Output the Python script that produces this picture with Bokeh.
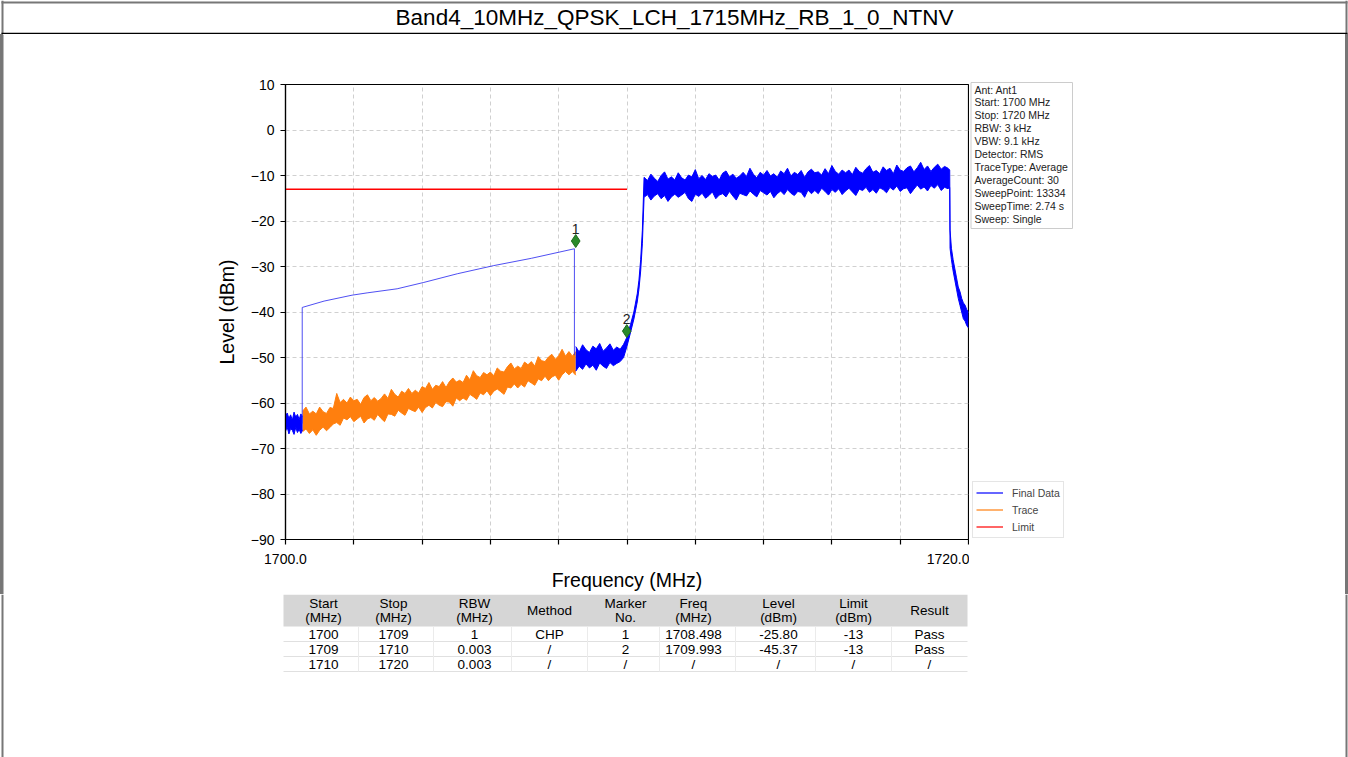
from bokeh.plotting import figure
from bokeh.models import Range1d, FixedTicker, Legend, LegendItem
from bokeh.layouts import column, row
from bokeh.core.properties import value
from bokeh.embed import file_html
from bokeh.resources import INLINE

# ---------------- data ----------------
title_text = "Band4_10MHz_QPSK_LCH_1715MHz_RB_1_0_NTNV"
x_label = "Frequency (MHz)"
y_label = "Level (dBm)"

x_ticks = [1700, 1702, 1704, 1706, 1708, 1710, 1712, 1714, 1716, 1718, 1720]
x_tick_labels = ["1700.0", "", "", "", "", "", "", "", "", "", "1720.0"]
y_ticks = [10, 0, -10, -20, -30, -40, -50, -60, -70, -80, -90]
y_tick_labels = ["10", "0", "\u221210", "\u221220", "\u221230", "\u221240", "\u221250",
                 "\u221260", "\u221270", "\u221280", "\u221290"]

# Final Data: noise below 1700.5 MHz (upper / lower envelope of the trace)
final_low_freq = [1700.0, 1700.05, 1700.1, 1700.15, 1700.2, 1700.25, 1700.3, 1700.35, 1700.4, 1700.45, 1700.5]
final_low_hi = [-63.0, -62.2, -63.4, -62.6, -63.8, -62.0, -63.1, -62.5, -63.6, -62.4, -63.0]
final_low_lo = [-66.2, -65.3, -66.8, -65.6, -66.0, -66.9, -65.4, -66.5, -65.8, -66.7, -65.9]

# Trace (orange) 1700.5 .. 1708.5 MHz
trace_freq = [1700.5, 1700.6, 1700.7, 1700.8, 1700.9, 1701.0, 1701.1, 1701.2, 1701.3, 1701.4,
              1701.5, 1701.6, 1701.7, 1701.8, 1701.9, 1702.0, 1702.1, 1702.2, 1702.3, 1702.4,
              1702.5, 1702.6, 1702.7, 1702.8, 1702.9, 1703.0, 1703.1, 1703.2, 1703.3, 1703.4,
              1703.5, 1703.6, 1703.7, 1703.8, 1703.9, 1704.0, 1704.1, 1704.2, 1704.3, 1704.4,
              1704.5, 1704.6, 1704.7, 1704.8, 1704.9, 1705.0, 1705.1, 1705.2, 1705.3, 1705.4,
              1705.5, 1705.6, 1705.7, 1705.8, 1705.9, 1706.0, 1706.1, 1706.2, 1706.3, 1706.4,
              1706.5, 1706.6, 1706.7, 1706.8, 1706.9, 1707.0, 1707.1, 1707.2, 1707.3, 1707.4,
              1707.5, 1707.6, 1707.7, 1707.8, 1707.9, 1708.0, 1708.1, 1708.2, 1708.3, 1708.4,
              1708.5]
trace_hi = [-61.8, -60.9, -62.4, -61.8, -62.4, -60.9, -61.9, -62.3, -61.0, -61.2,
            -57.9, -59.9, -59.2, -60.0, -58.7, -59.5, -59.2, -60.3, -58.8, -58.2,
            -59.5, -58.8, -59.6, -59.0, -58.0, -59.0, -57.0, -58.1, -58.7, -57.4,
            -57.9, -56.8, -57.9, -57.2, -57.8, -56.4, -56.8, -55.5, -57.0, -56.1,
            -56.4, -55.3, -56.6, -55.3, -54.5, -55.4, -55.0, -55.5, -53.9, -54.9,
            -52.9, -54.0, -54.4, -53.3, -53.8, -53.2, -54.0, -52.3, -53.0, -53.2,
            -52.0, -51.2, -52.5, -51.9, -52.4, -51.0, -51.6, -50.9, -51.9, -49.8,
            -50.7, -50.9, -49.9, -49.3, -50.4, -49.6, -48.2, -49.7, -48.7, -49.7,
            -48.7]
trace_lo = [-66.3, -65.7, -66.7, -65.9, -67.1, -66.0, -65.3, -66.1, -65.4, -64.6,
            -64.3, -64.9, -63.3, -63.7, -63.0, -64.1, -63.5, -62.9, -64.4, -63.5,
            -63.2, -63.8, -62.5, -63.4, -64.1, -62.4, -62.5, -62.9, -61.6, -62.2,
            -62.7, -61.2, -61.6, -61.9, -60.9, -62.1, -61.0, -60.5, -61.1, -59.9,
            -60.5, -60.8, -59.7, -59.8, -60.7, -58.9, -59.5, -58.9, -59.4, -58.1,
            -58.6, -59.2, -57.8, -58.2, -57.3, -58.4, -57.4, -56.9, -57.5, -58.1,
            -56.5, -56.7, -55.8, -56.7, -55.9, -56.5, -55.1, -55.6, -56.1, -54.7,
            -55.1, -54.1, -55.1, -54.3, -53.9, -55.0, -53.8, -53.1, -53.8, -53.1,
            -53.9]

# Final Data (blue) 1708.5 .. 1720 MHz
final_freq = [1708.5, 1708.6, 1708.7, 1708.8, 1708.9, 1709.0, 1709.1, 1709.2, 1709.3, 1709.4,
              1709.5, 1709.6, 1709.7, 1709.8, 1709.9,
              1710.0, 1710.1, 1710.2, 1710.3, 1710.35, 1710.4, 1710.45,
              1710.5, 1710.6, 1710.7, 1710.8, 1710.9, 1711.0, 1711.1, 1711.2, 1711.3, 1711.4,
              1711.5, 1711.6, 1711.7, 1711.8, 1711.9, 1712.0, 1712.1, 1712.2, 1712.3, 1712.4,
              1712.5, 1712.6, 1712.7, 1712.8, 1712.9, 1713.0, 1713.1, 1713.2, 1713.3, 1713.4,
              1713.5, 1713.6, 1713.7, 1713.8, 1713.9, 1714.0, 1714.1, 1714.2, 1714.3, 1714.4,
              1714.5, 1714.6, 1714.7, 1714.8, 1714.9, 1715.0, 1715.1, 1715.2, 1715.3, 1715.4,
              1715.5, 1715.6, 1715.7, 1715.8, 1715.9, 1716.0, 1716.1, 1716.2, 1716.3, 1716.4,
              1716.5, 1716.6, 1716.7, 1716.8, 1716.9, 1717.0, 1717.1, 1717.2, 1717.3, 1717.4,
              1717.5, 1717.6, 1717.7, 1717.8, 1717.9, 1718.0, 1718.1, 1718.2, 1718.3, 1718.4,
              1718.5, 1718.6, 1718.7, 1718.8, 1718.9, 1719.0, 1719.1, 1719.2, 1719.3, 1719.4,
              1719.45, 1719.46, 1719.5, 1719.55, 1719.6, 1719.65, 1719.7, 1719.75, 1719.8, 1719.85,
              1719.9, 1719.95, 1720.0]
final_hi = [-47.6, -48.8, -47.2, -48.3, -48.9, -47.5, -48.1, -46.9, -48.6, -47.9,
            -47.0, -48.4, -47.7, -48.2, -47.1,
            -45.5, -42.8, -40.0, -36.0, -33.0, -28.5, -22.0,
            -10.4, -11.1, -9.7, -10.6, -11.3, -10.0, -9.2, -10.8, -10.3, -11.0,
            -9.4, -10.5, -11.0, -9.9, -10.3, -8.7, -10.7, -10.0, -10.9, -9.6,
            -10.2, -9.9, -11.0, -9.5, -9.0, -10.3, -9.7, -10.6, -10.1, -9.3,
            -10.2, -8.4, -9.7, -10.5, -9.3, -9.9, -8.9, -10.1, -9.6, -10.4,
            -9.0, -9.6, -8.4, -10.1, -9.3, -9.8, -8.9, -10.4, -9.2, -8.6,
            -9.4, -9.2, -9.9, -8.5, -9.6, -7.8, -9.1, -9.7, -8.8, -9.4,
            -8.8, -9.8, -8.2, -9.1, -9.5, -8.5, -7.8, -9.3, -8.9, -9.6,
            -8.1, -8.9, -8.4, -9.6, -7.7, -8.8, -9.1, -8.3, -7.9, -9.2,
            -8.3, -7.1, -8.7, -7.9, -9.1, -8.2, -7.5, -8.6, -8.0, -8.4,
            -8.8, -22.0, -26.0, -28.5, -30.5, -32.5, -34.5, -35.5, -37.0, -38.0,
            -38.5, -39.5, -40.0]
final_lo = [-53.0, -51.9, -52.6, -51.4, -52.3, -51.7, -52.8, -51.2, -51.9, -52.4,
            -51.1, -51.8, -51.3, -50.9, -50.0,
            -47.5, -44.6, -41.6, -37.8, -35.0, -31.0, -25.0,
            -14.8, -14.2, -15.4, -14.5, -14.0, -15.1, -14.4, -15.7, -14.7, -14.1,
            -14.8, -14.3, -13.7, -15.1, -15.7, -14.1, -14.6, -13.9, -15.0, -14.4,
            -13.6, -15.1, -14.3, -14.0, -14.7, -13.5, -14.5, -15.4, -13.9, -14.2,
            -14.5, -13.4, -14.1, -14.7, -13.3, -13.8, -14.3, -13.5, -14.9, -14.0,
            -13.4, -14.2, -13.1, -13.9, -14.4, -13.5, -13.7, -14.8, -13.2, -14.0,
            -13.3, -14.0, -12.8, -13.5, -14.3, -13.1, -13.7, -12.9, -14.2, -13.4,
            -12.8, -13.6, -14.4, -13.0, -13.3, -12.6, -13.7, -13.1, -13.9, -12.7,
            -13.1, -13.8, -12.6, -13.2, -12.3, -13.5, -12.9, -12.7, -14.0, -13.0,
            -12.1, -13.0, -12.5, -13.4, -12.2, -12.8, -12.0, -13.3, -12.6, -12.9,
            -12.6, -26.0, -28.5, -31.0, -33.0, -35.0, -37.0, -38.5, -40.0, -41.5,
            -42.0, -43.0, -43.5]

# Final Data: channel power (CHP) curve 1700.5 .. 1708.5 MHz
chp_freq = [1700.49, 1700.49, 1701.13, 1701.95, 1702.39, 1703.27, 1704.05, 1705.03, 1706.1, 1707.2, 1708.46, 1708.46]
chp_level = [-64.5, -39.0, -37.6, -36.3, -35.8, -34.9, -33.5, -31.6, -29.8, -28.2, -26.1, -49.5]

# Limit
limit_freq = [1700.0, 1710.0]
limit_level = [-13.0, -13.0]

# Markers (as drawn)
marker_names = ["1", "2"]
marker_freq = [1708.498, 1709.993]
marker_level = [-24.4, -44.2]

# Info box
info_lines = ["Ant: Ant1", "Start: 1700 MHz", "Stop: 1720 MHz", "RBW: 3 kHz", "VBW: 9.1 kHz",
              "Detector: RMS", "TraceType: Average", "AverageCount: 30", "SweepPoint: 13334",
              "SweepTime: 2.74 s", "Sweep: Single"]

legend_labels = ["Final Data", "Trace", "Limit"]

# Result table
table_header = [["Start", "(MHz)"], ["Stop", "(MHz)"], ["RBW", "(MHz)"], ["Method"], ["Marker", "No."],
                ["Freq", "(MHz)"], ["Level", "(dBm)"], ["Limit", "(dBm)"], ["Result"]]
table_rows = [["1700", "1709", "1", "CHP", "1", "1708.498", "-25.80", "-13", "Pass"],
              ["1709", "1710", "0.003", "/", "2", "1709.993", "-45.37", "-13", "Pass"],
              ["1710", "1720", "0.003", "/", "/", "/", "/", "/", "/"]]

# ---------------- layout (page pixel positions) ----------------
FONT = "Liberation Sans"
PW, PH = 1348, 757
TOP_H = 34                 # title strip
MID_B = 594                # bottom of the chart strip
CH_L, CH_R = 190, 969      # chart figure extent on the page
FL, FR, FT, FB = 285, 968, 84, 539   # plot frame on the page
LB, RB = 2, 1346           # page frame: left / right line centres
BORDER = "#777777"
ORANGE = "#ff7f0e"
BLUE = "#0000ff"
NAN = float("nan")


def no_align(f):
    try:
        f.frame_align = False
    except Exception:
        pass


def deco(x0, x1, y0, y1, transparent=False):
    f = figure(width=x1 - x0, height=y1 - y0, x_range=Range1d(x0, x1), y_range=Range1d(y1, y0),
               output_backend="svg", toolbar_location=None,
               x_axis_location=None, y_axis_location=None,
               min_border_left=0, min_border_right=0, min_border_top=0, min_border_bottom=0)
    f.title.visible = False
    f.grid.visible = False
    f.outline_line_color = None
    if transparent:
        f.background_fill_alpha = 0
        f.border_fill_alpha = 0
    else:
        f.background_fill_color = "white"
        f.border_fill_color = "white"
    no_align(f)
    return f


def vborders(f, xs, y0, y1):
    # page frame drawn as thin filled strips
    f.quad(left=[x - 1 for x in xs], right=[x + 1 for x in xs], top=[y0] * len(xs), bottom=[y1] * len(xs),
           fill_color=BORDER, line_color=None)


def texts(f, xs, ys, ts, size, align="center", color="black"):
    f.text(x=xs, y=ys, text=ts, text_align=align, text_baseline="middle",
           text_font=value(FONT), text_font_size=size, text_color=color)


# ---- title strip ----
ft = deco(0, PW, 0, TOP_H)
vborders(ft, [LB, RB], 0, TOP_H)
ft.quad(left=[LB - 1], right=[RB + 1], top=[1], bottom=[3], fill_color=BORDER, line_color=None)
ft.quad(left=[LB - 1], right=[RB + 1], top=[32.3], bottom=[33.8], fill_color="black", line_color=None)
texts(ft, [674], [17], [title_text], "22.5px")

# ---- left strip (page frame line via CSS inset shadow behind a transparent canvas) ----
fl = deco(0, CH_L, TOP_H, MID_B, transparent=True)
vborders(fl, [LB], TOP_H, MID_B)
fl.styles = {"box-shadow": "inset 3px 0 0 " + BORDER, "background-color": "white"}

# ---- chart ----
p = figure(width=CH_R - CH_L, height=MID_B - TOP_H, x_range=Range1d(1700, 1720), y_range=Range1d(-90, 10),
           output_backend="svg", toolbar_location=None,
           min_border_left=FL - CH_L, min_border_right=CH_R - FR,
           min_border_top=FT - TOP_H, min_border_bottom=MID_B - FB)
no_align(p)
p.title.visible = False
p.background_fill_color = "white"
p.border_fill_color = "white"
p.outline_line_color = "black"
p.outline_line_width = 1.2

p.xaxis.ticker = FixedTicker(ticks=x_ticks)
p.xaxis.major_label_overrides = {t: l for t, l in zip(x_ticks, x_tick_labels)}
p.yaxis.ticker = FixedTicker(ticks=y_ticks)
p.yaxis.major_label_overrides = {t: l for t, l in zip(y_ticks, y_tick_labels)}
for ax in (p.xaxis, p.yaxis):
    ax.axis_line_color = "black"
    ax.axis_line_width = 1.2
    ax.major_tick_line_color = "black"
    ax.major_tick_line_width = 1.2
    ax.major_tick_out = 5
    ax.major_tick_in = 0
    ax.minor_tick_line_color = None
    ax.major_label_text_font = FONT
    ax.major_label_text_font_size = "14px"
    ax.major_label_text_color = "black"
    ax.axis_label_text_font = FONT
    ax.axis_label_text_font_size = "19.5px"
    ax.axis_label_text_font_style = "normal"
    ax.axis_label_text_color = "black"
p.xaxis.axis_label = x_label
p.yaxis.axis_label = y_label
p.xaxis.major_label_standoff = 9
p.yaxis.major_label_standoff = 6
p.xaxis.axis_label_standoff = 2
p.yaxis.axis_label_standoff = 10

p.grid.grid_line_color = "#c4c4c4"
p.grid.grid_line_dash = "4 3"
p.grid.grid_line_width = 0.8

p.varea(x=trace_freq, y1=trace_lo, y2=trace_hi, fill_color=ORANGE)
p.line(trace_freq, trace_hi, line_color=ORANGE, line_width=1)
p.line(trace_freq, trace_lo, line_color=ORANGE, line_width=1)

p.varea(x=final_low_freq, y1=final_low_lo, y2=final_low_hi, fill_color=BLUE)
p.line(final_low_freq, final_low_hi, line_color=BLUE, line_width=1)
p.line(final_low_freq, final_low_lo, line_color=BLUE, line_width=1)

p.varea(x=final_freq, y1=final_lo, y2=final_hi, fill_color=BLUE)
p.line(final_freq, final_hi, line_color=BLUE, line_width=1)
p.line(final_freq, final_lo, line_color=BLUE, line_width=1)

p.line(chp_freq, chp_level, line_color="#3030f0", line_width=1, line_alpha=0.85)
p.line(limit_freq, limit_level, line_color="#ff0000", line_width=1.5)

p.scatter(marker_freq, marker_level, marker="diamond", size=13,
          fill_color="#2a8a2a", line_color="#1d6b1d")
p.text(marker_freq, marker_level, text=marker_names, text_align="center", text_baseline="bottom",
       y_offset=-7, text_font=value(FONT), text_font_size="14px", text_color="#222222")

# ---- right strip: info box + legend ----
fr = deco(CH_R, PW, TOP_H, MID_B, transparent=True)
vborders(fr, [RB], TOP_H, MID_B)
fr.styles = {"box-shadow": "inset -3px 0 0 " + BORDER, "background-color": "white"}
fr.quad(left=[970.5], right=[1072], top=[82], bottom=[228], fill_color="white", line_color="#cccccc")
texts(fr, [974] * len(info_lines), [89 + 12.9 * i for i in range(len(info_lines))], info_lines,
      "10.5px", align="left", color="#222222")

leg_final = fr.line(x=[NAN], y=[NAN], line_color=BLUE, line_width=1.2)
leg_trace = fr.line(x=[NAN], y=[NAN], line_color=ORANGE, line_width=1.2)
leg_limit = fr.line(x=[NAN], y=[NAN], line_color="#ff0000", line_width=1.2)
legend = Legend(items=[LegendItem(label=legend_labels[0], renderers=[leg_final]),
                       LegendItem(label=legend_labels[1], renderers=[leg_trace]),
                       LegendItem(label=legend_labels[2], renderers=[leg_limit])],
                location=(972 - CH_R, MID_B - 538), orientation="vertical")
legend.label_text_font = FONT
legend.label_text_font_size = "10.5px"
legend.glyph_width = 27
legend.glyph_height = 15
legend.label_height = 15
legend.label_standoff = 9
legend.spacing = 2
legend.padding = 3
legend.margin = 0
legend.border_line_color = "#cccccc"
legend.border_line_width = 1
legend.background_fill_color = "white"
legend.background_fill_alpha = 1
fr.add_layout(legend)

# ---- bottom strip: result table ----
fb = deco(0, PW, MID_B, PH)
vborders(fb, [LB, RB], MID_B, PH)
col_centers = [323, 393, 474, 549, 625, 693, 778, 853, 929]
col_bounds = [283, 358, 433, 511, 587, 659, 735, 815, 891, 967]
fb.quad(left=[283], right=[967], top=[MID_B], bottom=[626], fill_color="#d6d6d6", line_color=None)
row_lines = [641, 656, 671]
fb.segment(x0=[283] * 3, y0=row_lines, x1=[967] * 3, y1=row_lines, line_color="#e0e0e0", line_width=1)
inner = col_bounds[1:-1]
fb.segment(x0=inner, y0=[626] * len(inner), x1=inner, y1=[671] * len(inner),
           line_color="#ebebeb", line_width=1)
hx, hy, ht = [], [], []
for c, hdr in zip(col_centers, table_header):
    if len(hdr) == 2:
        hx += [c, c]
        hy += [603, 617]
        ht += hdr
    else:
        hx.append(c)
        hy.append(610)
        ht.append(hdr[0])
texts(fb, hx, hy, ht, "13.5px")
rx, ry, rt = [], [], []
for r, rowvals in enumerate(table_rows):
    for c, t in zip(col_centers, rowvals):
        rx.append(c)
        ry.append(634 + 15 * r)
        rt.append(t)
texts(fb, rx, ry, rt, "13.5px")

layout = column(ft, row(fl, p, fr), fb)
open("out.html", "w").write(file_html(layout, INLINE))
